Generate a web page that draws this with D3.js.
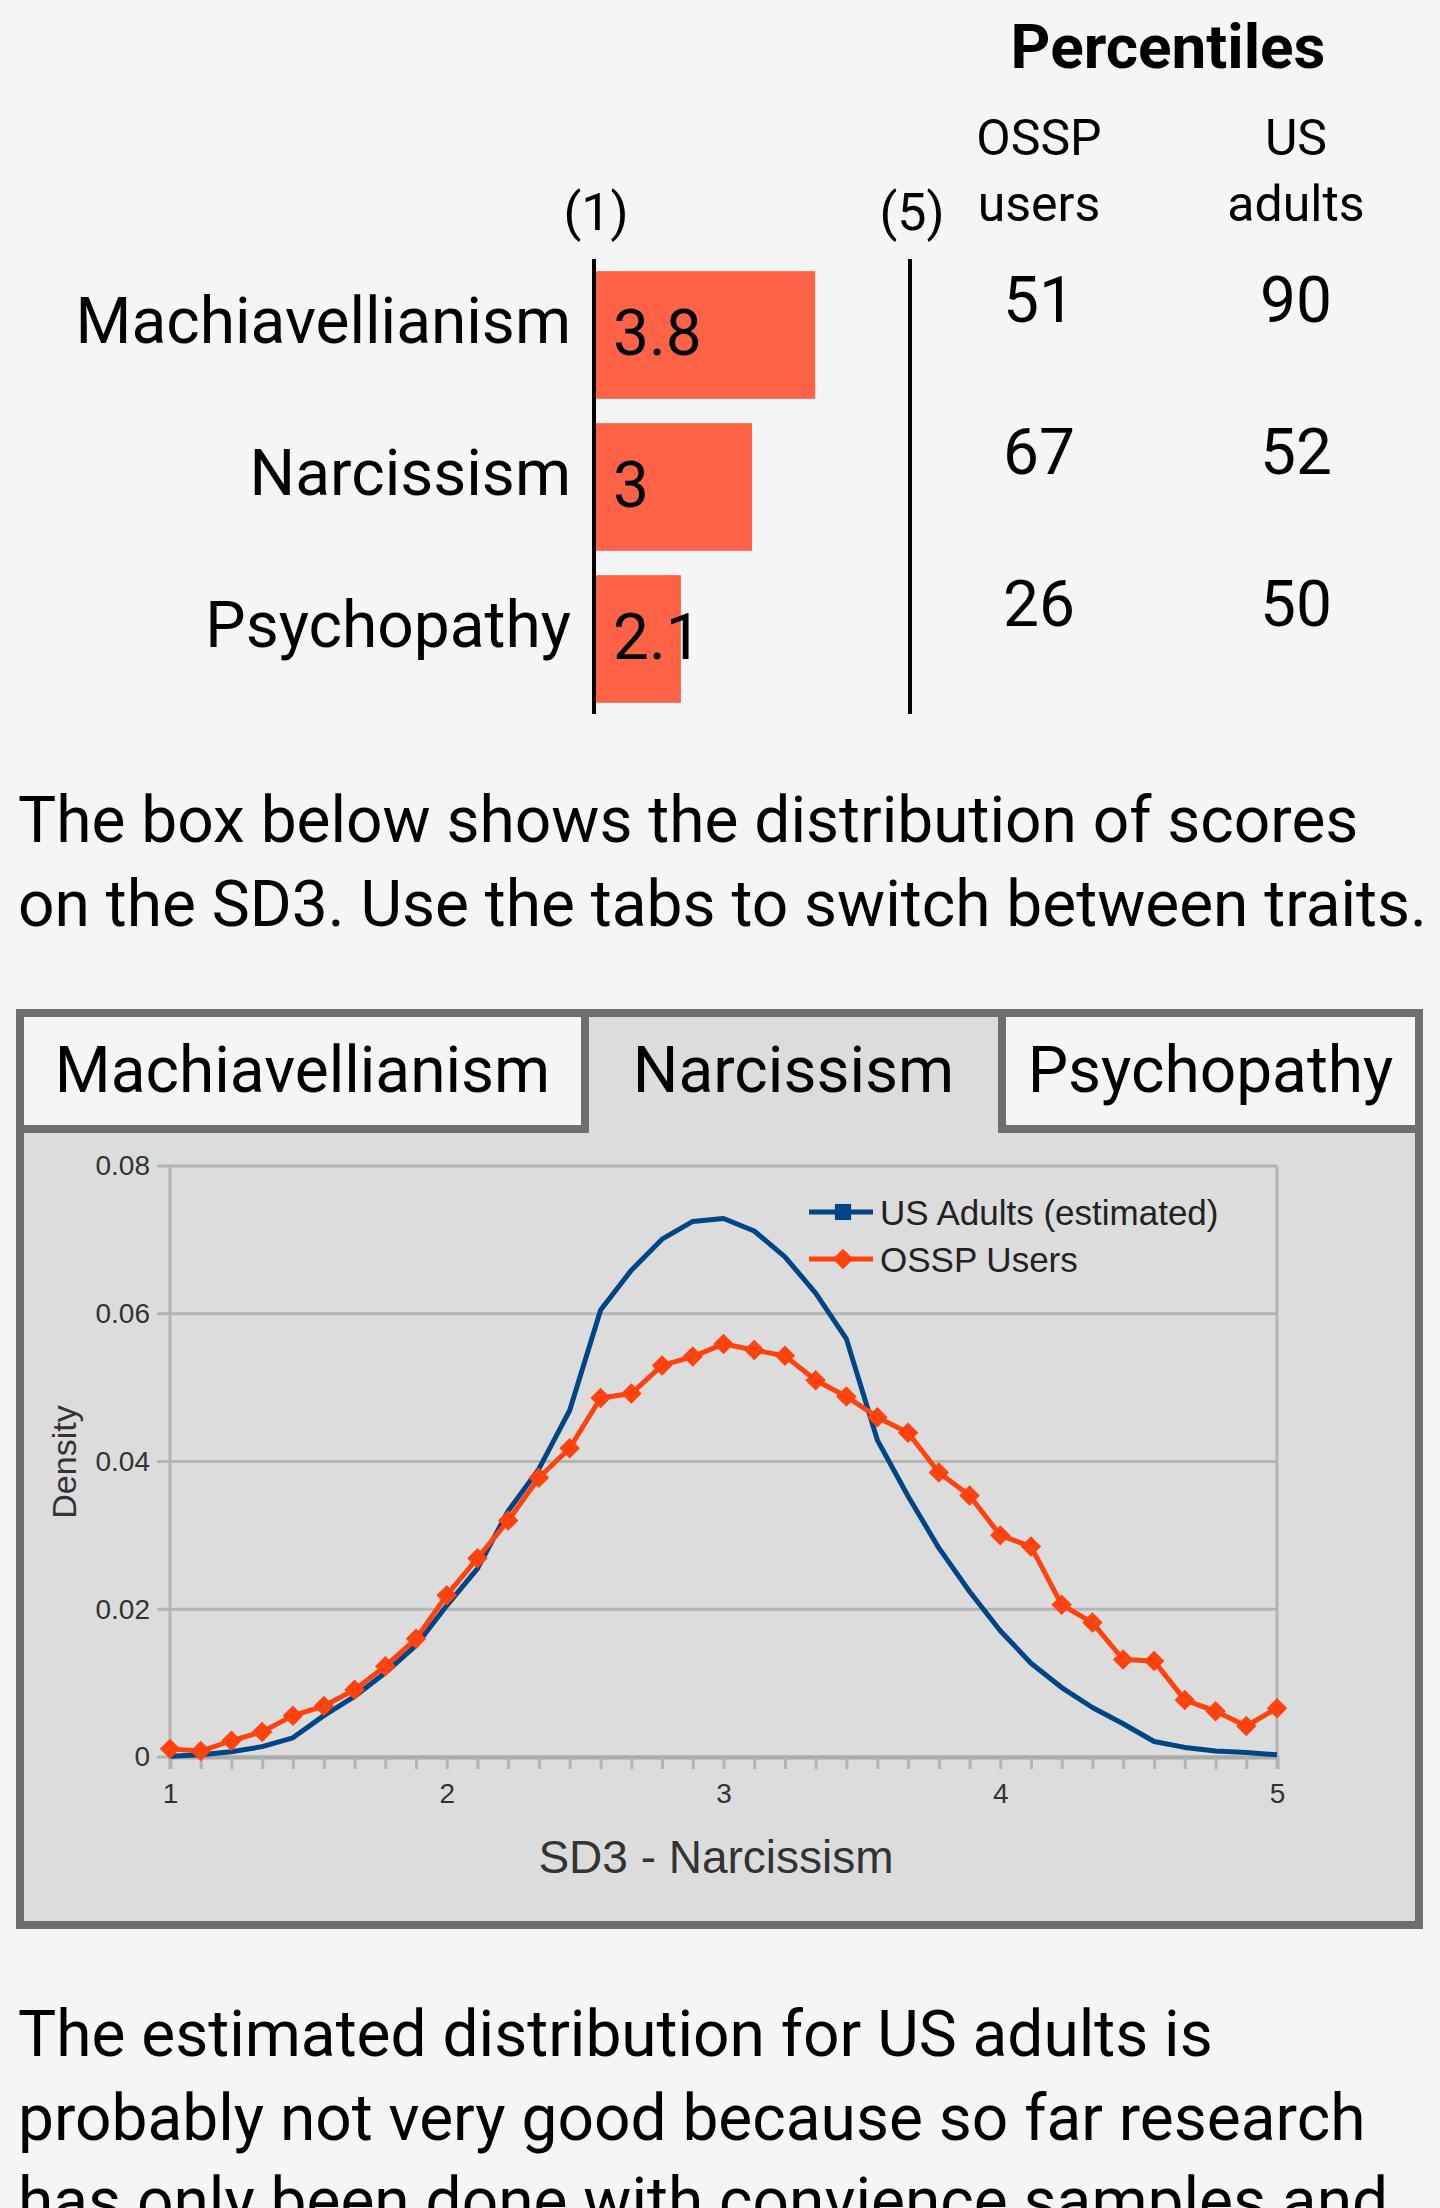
<!DOCTYPE html>
<html>
<head>
<meta charset="utf-8">
<script src="https://cdn.jsdelivr.net/npm/d3@7"></script>
<style>
  html, body { margin: 0; padding: 0; background: #f5f5f5; overflow: hidden; }
  svg { display: block; }
</style>
</head>
<body>
<div id="page"></div>
<script>
// ---- data ----
const traits = ["Machiavellianism", "Narcissism", "Psychopathy"];
const traitScores = [3.8, 3, 2.1];
const osspPercentiles = [51, 67, 26];
const usPercentiles = [90, 52, 50];
const scaleEnds = ["(1)", "(5)"];
const percentileHeads = [["OSSP", "users"], ["US", "adults"]];

const introLines = [
  "The box below shows the distribution of scores",
  "on the SD3. Use the tabs to switch between traits."
];
const outroLines = [
  "The estimated distribution for US adults is",
  "probably not very good because so far research",
  "has only been done with convience samples and"
];

// SD3 scores step by 1/9 (mean of nine 1-5 items)
const sd3Scores = [1, 1.111, 1.222, 1.333, 1.444, 1.556, 1.667, 1.778, 1.889,
  2, 2.111, 2.222, 2.333, 2.444, 2.556, 2.667, 2.778, 2.889,
  3, 3.111, 3.222, 3.333, 3.444, 3.556, 3.667, 3.778, 3.889,
  4, 4.111, 4.222, 4.333, 4.444, 4.556, 4.667, 4.778, 4.889, 5];
const usAdults = [0.0001, 0.0003, 0.0007, 0.0014, 0.0026, 0.0056, 0.0082, 0.0114, 0.0151,
  0.0205, 0.0255, 0.0333, 0.0390, 0.0469, 0.0605, 0.0659, 0.0701, 0.0725,
  0.0729, 0.0712, 0.0677, 0.0628, 0.0566, 0.0429, 0.0353, 0.0283, 0.0224,
  0.0171, 0.0127, 0.0094, 0.0067, 0.0045, 0.0021, 0.0013, 0.0008, 0.0006, 0.0003];
const osspUsers = [0.0011, 0.0008, 0.0022, 0.0034, 0.0056, 0.0069, 0.0091, 0.0123, 0.0160,
  0.0219, 0.0269, 0.0320, 0.0378, 0.0418, 0.0486, 0.0492, 0.0530, 0.0542,
  0.0559, 0.0551, 0.0543, 0.0510, 0.0488, 0.0460, 0.0439, 0.0385, 0.0354,
  0.0300, 0.0285, 0.0206, 0.0182, 0.0132, 0.0130, 0.0077, 0.0062, 0.0042, 0.0066];
const densityTicks = [0, 0.02, 0.04, 0.06, 0.08];
const densityLabels = ["0", "0.02", "0.04", "0.06", "0.08"];
const scoreTicks = [1, 2, 3, 4, 5];
const seriesNames = ["US Adults (estimated)", "OSSP Users"];
const activeTrait = "Narcissism";

// ---- page ----
const W = 1440, H = 2208;
const ui = "Roboto, 'Noto Sans', sans-serif";
const chartFont = "'Liberation Sans', Arial, sans-serif";

const svg = d3.select("#page").append("svg")
    .attr("width", W)
    .attr("height", H);

svg.append("rect").attr("width", W).attr("height", H).attr("fill", "#f5f5f5");

// ---- score bars ----
const x = d3.scaleLinear().domain([1, 5]).range([594, 910]);
const y = d3.scaleBand().domain(traits).range([259, 715]).paddingInner(0.16).paddingOuter(0.08);

const rows = traits.map((t, i) => ({
    trait: t, score: traitScores[i], ossp: osspPercentiles[i], us: usPercentiles[i]
}));

svg.append("text")
    .attr("x", 1168).attr("y", 68)
    .attr("text-anchor", "middle")
    .attr("font-family", ui).attr("font-weight", "bold").attr("font-size", 62)
    .text("Percentiles");

svg.selectAll(".end")
    .data(scaleEnds)
    .join("text")
    .attr("class", "end")
    .attr("x", (d, i) => x(i ? 5 : 1) + 2)
    .attr("y", 230)
    .attr("text-anchor", "middle")
    .attr("font-family", ui).attr("font-size", 52)
    .text(d => d);

const pctX = [1039, 1296];
percentileHeads.forEach((lines, i) => {
    svg.append("text")
        .attr("text-anchor", "middle")
        .attr("font-family", ui).attr("font-size", 50)
        .selectAll("tspan")
        .data(lines)
        .join("tspan")
        .attr("x", pctX[i])
        .attr("y", (d, j) => 155 + j * 66)
        .text(d => d);
});

svg.append("g")
    .selectAll("rect")
    .data(rows)
    .join("rect")
    .attr("x", x(1))
    .attr("y", d => y(d.trait))
    .attr("width", d => x(d.score) - x(1))
    .attr("height", y.bandwidth())
    .attr("fill", "tomato");

svg.append("g")
    .selectAll("line")
    .data([1, 5])
    .join("line")
    .attr("x1", d => x(d)).attr("x2", d => x(d))
    .attr("y1", 259).attr("y2", 714)
    .attr("stroke", "#000").attr("stroke-width", 4);

svg.append("g")
    .attr("font-family", ui).attr("font-size", 64)
    .selectAll("text")
    .data(rows)
    .join("text")
    .attr("x", x(1) + 19)
    .attr("y", d => y(d.trait) + 84)
    .text(d => d.score);

svg.append("g")
    .attr("font-family", ui).attr("font-size", 64)
    .attr("text-anchor", "end")
    .selectAll("text")
    .data(rows)
    .join("text")
    .attr("x", 571)
    .attr("y", d => y(d.trait) + 72)
    .text(d => d.trait);

const pct = svg.append("g")
    .attr("font-family", ui).attr("font-size", 64)
    .attr("text-anchor", "middle");
pct.selectAll(".ossp")
    .data(rows)
    .join("text")
    .attr("class", "ossp")
    .attr("x", pctX[0])
    .attr("y", d => y(d.trait) + 51)
    .text(d => d.ossp);
pct.selectAll(".us")
    .data(rows)
    .join("text")
    .attr("class", "us")
    .attr("x", pctX[1])
    .attr("y", d => y(d.trait) + 51)
    .text(d => d.us);

// ---- paragraphs ----
function paragraph(lines, top) {
    svg.append("g")
        .attr("font-family", ui).attr("font-size", 64).attr("fill", "#000")
        .selectAll("text")
        .data(lines)
        .join("text")
        .attr("x", 18)
        .attr("y", (d, i) => top + i * 83.5)
        .text(d => d);
}
paragraph(introLines, 842);
paragraph(outroLines, 2056);

// ---- tab box ----
const border = "#6e6e6e", panel = "#dcdcdc", plain = "#f5f5f5";
const box = { x0: 16, x1: 1423, y0: 1009, y1: 1929, b: 8 };
const inner = { x0: box.x0 + box.b, x1: box.x1 - box.b, y0: box.y0 + box.b };
// tab content edges; borders sit at 581-589 and 998-1006
const tabSpans = [[inner.x0, 581], [589, 998], [1006, inner.x1]];
const tabBottom = 1125;

svg.append("rect")
    .attr("x", box.x0).attr("y", box.y0)
    .attr("width", box.x1 - box.x0).attr("height", box.y1 - box.y0)
    .attr("fill", border);
svg.append("rect")
    .attr("x", inner.x0).attr("y", inner.y0)
    .attr("width", inner.x1 - inner.x0).attr("height", box.y1 - box.y0 - 2 * box.b)
    .attr("fill", panel);

const tabs = traits.map((t, i) => ({
    name: t, left: tabSpans[i][0], right: tabSpans[i][1], active: t === activeTrait
}));
const tabG = svg.append("g");
tabs.forEach((t, i) => {
    if (t.active) return;
    // grey frame under and beside an inactive tab
    const fl = i === 0 ? t.left : t.left - box.b;
    const fr = i === 0 ? t.right + box.b : t.right;
    tabG.append("rect")
        .attr("x", fl).attr("y", inner.y0)
        .attr("width", fr - fl).attr("height", tabBottom + box.b - inner.y0)
        .attr("fill", border);
    tabG.append("rect")
        .attr("x", t.left).attr("y", inner.y0)
        .attr("width", t.right - t.left).attr("height", tabBottom - inner.y0)
        .attr("fill", plain);
});
tabG.selectAll("text")
    .data(tabs)
    .join("text")
    .attr("x", d => (d.left + d.right) / 2)
    .attr("y", 1092)
    .attr("text-anchor", "middle")
    .attr("font-family", ui).attr("font-size", 64)
    .text(d => d.name);

// ---- density chart ----
const xs = d3.scaleLinear().domain([1, 5]).range([170, 1277]);
const ys = d3.scaleLinear().domain([0, 0.08]).range([1757, 1166]);
const grid = "#b4b4b4", ink = "#333";

const chart = svg.append("g");

chart.append("g")
    .selectAll("line")
    .data(densityTicks)
    .join("line")
    .attr("x1", xs(1) - 13).attr("x2", xs(5))
    .attr("y1", d => ys(d)).attr("y2", d => ys(d))
    .attr("stroke", grid).attr("stroke-width", 3);

chart.append("g")
    .selectAll("line")
    .data([1, 5])
    .join("line")
    .attr("x1", d => xs(d)).attr("x2", d => xs(d))
    .attr("y1", ys(0.08)).attr("y2", ys(0))
    .attr("stroke", grid).attr("stroke-width", 3);

const yAxis = chart.append("g")
    .attr("transform", `translate(${xs(1) - 13},0)`)
    .call(d3.axisLeft(ys).tickValues(densityTicks).tickSize(0).tickPadding(7)
        .tickFormat((d, i) => densityLabels[i]));
yAxis.select(".domain").remove();
yAxis.selectAll("text")
    .attr("font-family", chartFont).attr("font-size", 28).attr("fill", ink);

const xAxis = chart.append("g")
    .attr("transform", `translate(0,${ys(0)})`)
    .call(d3.axisBottom(xs).tickValues(sd3Scores).tickSize(12).tickPadding(14)
        .tickFormat(d => scoreTicks.includes(d) ? d : ""));
xAxis.select(".domain")
    .attr("stroke", "#aaa").attr("stroke-width", 4);
xAxis.selectAll(".tick line").attr("stroke", grid).attr("stroke-width", 3);
xAxis.selectAll("text")
    .attr("font-family", chartFont).attr("font-size", 28).attr("fill", ink);

chart.append("text")
    .attr("x", 716).attr("y", 1873)
    .attr("text-anchor", "middle")
    .attr("font-family", chartFont).attr("font-size", 46).attr("fill", ink)
    .text("SD3 - " + activeTrait);

chart.append("text")
    .attr("transform", "translate(76,1462) rotate(-90)")
    .attr("text-anchor", "middle")
    .attr("font-family", chartFont).attr("font-size", 34).attr("fill", ink)
    .text("Density");

const blue = "#004586", orange = "#ff420e";
const line = d3.line().x(d => xs(d[0])).y(d => ys(d[1]));

chart.append("path")
    .datum(sd3Scores.map((s, i) => [s, usAdults[i]]))
    .attr("d", line)
    .attr("fill", "none").attr("stroke", blue).attr("stroke-width", 5)
    .attr("stroke-linejoin", "round");

const osspPts = sd3Scores.map((s, i) => [s, osspUsers[i]]);
chart.append("path")
    .datum(osspPts)
    .attr("d", line)
    .attr("fill", "none").attr("stroke", orange).attr("stroke-width", 5)
    .attr("stroke-linejoin", "round");

const diamond = d3.symbol(d3.symbolSquare, 210);
chart.append("g")
    .selectAll("path")
    .data(osspPts)
    .join("path")
    .attr("transform", d => `translate(${xs(d[0])},${ys(d[1])}) rotate(45)`)
    .attr("d", diamond)
    .attr("fill", orange);

// legend
const legend = chart.append("g");
const legendY = [1212, 1259];
const legendColors = [blue, orange];
seriesNames.forEach((name, i) => {
    legend.append("line")
        .attr("x1", 809).attr("x2", 873)
        .attr("y1", legendY[i]).attr("y2", legendY[i])
        .attr("stroke", legendColors[i]).attr("stroke-width", 5);
    legend.append("path")
        .attr("transform", `translate(843,${legendY[i]})` + (i ? " rotate(45)" : ""))
        .attr("d", d3.symbol(d3.symbolSquare, i ? 210 : 260)())
        .attr("fill", legendColors[i]);
    legend.append("text")
        .attr("x", 880).attr("y", legendY[i] + 13)
        .attr("font-family", chartFont).attr("font-size", 35).attr("fill", "#222")
        .text(name);
});
</script>
</body>
</html>
